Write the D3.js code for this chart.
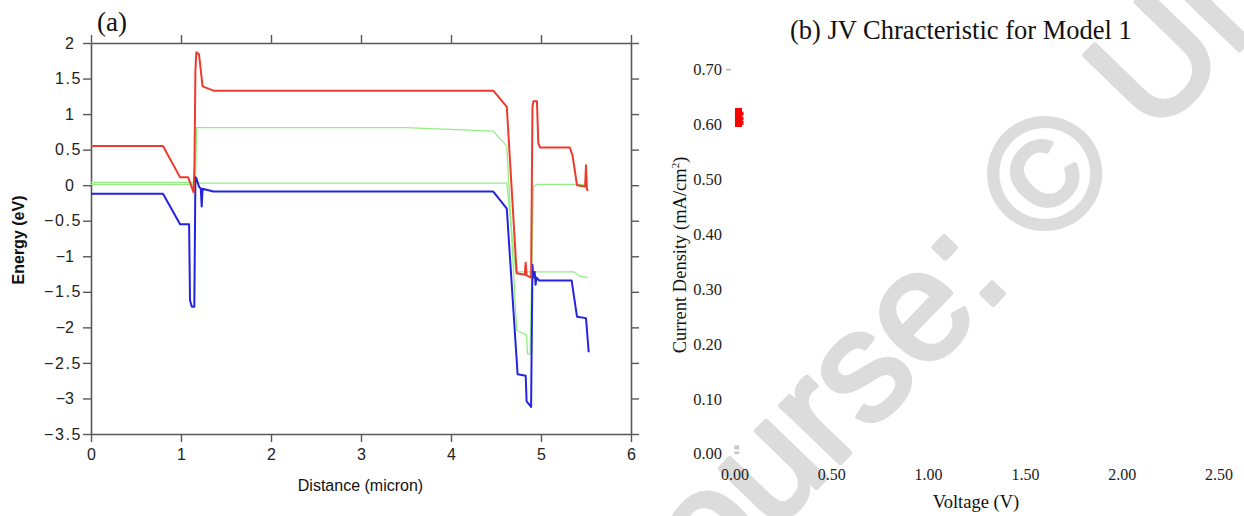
<!DOCTYPE html>
<html>
<head>
<meta charset="utf-8">
<script src="https://cdn.jsdelivr.net/npm/d3@7/dist/d3.min.js"></script>
<style>
  html, body { margin: 0; padding: 0; background: #fff; }
  svg { display: block; }
</style>
</head>
<body>
<div id="chart"></div>
<script>
// (a) 能带图: Ec / Ev / 两条准费米能级; (b) JV 曲线 (只有 V≈0 附近几点)
const W = 1244, H = 516;

// ---- panel (a) data: distance (micron) / energy (eV) ----
const ecX = [0, 0.8, 0.99, 1.08, 1.12, 1.14, 1.15, 1.16, 1.17, 1.2, 1.24, 1.36, 4.47, 4.62, 4.73, 4.82, 4.83, 4.84, 4.89, 4.905, 4.915, 4.955, 4.97, 4.99, 5.32, 5.35, 5.4, 5.49, 5.5, 5.51, 5.52];
const ecE = [0.55, 0.55, 0.11, 0.11, -0.03, -0.1, 0.3, 1.6, 1.87, 1.84, 1.39, 1.33, 1.33, 1.1, -1.24, -1.26, -1.09, -1.27, -1.3, 1.1, 1.18, 1.18, 0.59, 0.53, 0.53, 0.42, 0.0, -0.02, 0.28, -0.05, -0.08];

const evX = [0, 0.8, 0.99, 1.09, 1.1, 1.12, 1.148, 1.16, 1.17, 1.2, 1.22, 1.23, 1.24, 1.36, 4.47, 4.62, 4.74, 4.83, 4.84, 4.88, 4.89, 4.905, 4.915, 4.93, 4.94, 4.95, 4.98, 5.34, 5.4, 5.5, 5.53];
const evE = [-0.12, -0.12, -0.55, -0.55, -1.62, -1.71, -1.71, 0.11, 0.1, -0.02, -0.05, -0.3, -0.05, -0.09, -0.09, -0.33, -2.66, -2.68, -3.04, -3.1, -3.12, -1.12, -1.3, -1.22, -1.4, -1.3, -1.34, -1.34, -1.85, -1.87, -2.35];

const efnX = [0, 1.14, 1.16, 1.174, 3.5, 4.47, 4.62, 4.73, 4.84, 4.85, 4.88, 4.915, 4.95, 5.51];
const efnE = [0.01, 0.01, 0.05, 0.81, 0.81, 0.76, 0.55, -2.04, -2.11, -2.37, -2.38, -0.02, 0.01, 0.01];

const efpX = [0, 1.1, 1.2, 4.62, 4.72, 5.37, 5.43, 5.52];
const efpE = [0.04, 0.04, 0.03, 0.03, -1.22, -1.22, -1.28, -1.3];

const energyTicks = d3.range(-3.5, 2.01, 0.5);
const distTicks = [0, 1, 2, 3, 4, 5, 6];

// ---- panel (b) data: voltage (V) / current density (mA/cm2) ----
const jvV = [0.018, 0.018, 0.018, 0.018, 0.018, 0.031, 0.031, 0.031];
const jvJ = [0.624, 0.618, 0.612, 0.606, 0.602, 0.620, 0.611, 0.603];
const greyV = [0.009, 0.009];
const greyJ = [0.012, 0.001];
const jTicks = [0, 0.1, 0.2, 0.3, 0.4, 0.5, 0.6, 0.7];
const vTicks = [0, 0.5, 1.0, 1.5, 2.0, 2.5];

const svg = d3.select("#chart").append("svg").attr("width", W).attr("height", H);
svg.append("rect").attr("width", W).attr("height", H).attr("fill", "#fff");

// ---- watermark (drawn first, under everything) ----
const wmSize = 156, wmAng = -46;
const wm = svg.append("g");
const wmText = wm.append("text")
  .attr("font-family", "Liberation Sans, Arial, sans-serif").attr("font-size", wmSize)
  .attr("fill", "#dcdcdc").attr("stroke", "#dcdcdc").attr("stroke-width", 5)
  .attr("stroke-linejoin", "round").attr("stroke-linecap", "round")
  .text("Course: © Uni");
{
  // 以 © 的中心定位整条水印
  const n = wmText.node();
  const p0 = n.getStartPositionOfChar(8);
  const cw = n.getExtentOfChar(8).width;
  const lx = p0.x + cw / 2, ly = p0.y - 0.36 * wmSize;
  const a = wmAng * Math.PI / 180;
  const rx = lx * Math.cos(a) - ly * Math.sin(a);
  const ry = lx * Math.sin(a) + ly * Math.cos(a);
  wm.attr("transform", `translate(${1043 - rx},${172 - ry}) rotate(${wmAng})`);
}

// ================= panel (a) =================
const ax = { left: 91, right: 631, top: 43, bottom: 434 };
const x = d3.scaleLinear().domain([0, 6]).range([ax.left, ax.right]);
const y = d3.scaleLinear().domain([-3.5, 2]).range([ax.bottom, ax.top]);
const axisColor = "#585858";
const sans = "Liberation Sans, Arial, sans-serif";
const fmtE = d3.format("~g");

function styleAxis(g) {
  g.selectAll(".domain").attr("stroke", axisColor).attr("stroke-width", 1.6);
  g.selectAll(".tick line").attr("stroke", axisColor).attr("stroke-width", 1.4);
  g.selectAll("text").attr("font-family", sans).attr("font-size", 16).attr("fill", "#222");
}

const gBottom = svg.append("g").attr("transform", `translate(0,${ax.bottom})`)
  .call(d3.axisBottom(x).tickValues(distTicks).tickSize(8).tickSizeOuter(0).tickPadding(7).tickFormat(d3.format("d")));
styleAxis(gBottom);
const gTop = svg.append("g").attr("transform", `translate(0,${ax.top})`)
  .call(d3.axisTop(x).tickValues(distTicks).tickSize(8).tickSizeOuter(0).tickFormat(""));
styleAxis(gTop);
const gLeft = svg.append("g").attr("transform", `translate(${ax.left},0)`)
  .call(d3.axisLeft(y).tickValues(energyTicks).tickSize(8).tickSizeOuter(0).tickPadding(1).tickFormat(fmtE));
styleAxis(gLeft);
gLeft.selectAll(".tick text")
  .attr("letter-spacing", (d) => Number.isInteger(d) ? 0 : 1.6)
  .attr("dx", (d) => Number.isInteger(d) ? -8 : 0);
const gRight = svg.append("g").attr("transform", `translate(${ax.right},0)`)
  .call(d3.axisRight(y).tickValues(energyTicks).tickSize(8).tickSizeOuter(0).tickFormat(""));
styleAxis(gRight);

svg.append("text").attr("x", 97).attr("y", 31)
  .attr("font-family", "Liberation Serif, Times New Roman, serif").attr("font-size", 27).attr("fill", "#111")
  .text("(a)");
svg.append("text").attr("x", ax.left + (ax.right - ax.left) / 2 - 0.5).attr("y", 491)
  .attr("text-anchor", "middle").attr("font-family", sans).attr("font-size", 16).attr("fill", "#111")
  .text("Distance (micron)");
svg.append("text").attr("transform", `translate(24,${240}) rotate(-90)`)
  .attr("text-anchor", "middle").attr("font-family", sans).attr("font-size", 16).attr("font-weight", "bold")
  .attr("fill", "#111").text("Energy (eV)");

const line = d3.line().x((d) => x(d[0])).y((d) => y(d[1]));
const bands = [
  { xs: efpX, es: efpE, color: "#92ee82", w: 1.3 },
  { xs: efnX, es: efnE, color: "#92ee82", w: 1.3 },
  { xs: evX, es: evE, color: "#2424e0", w: 2 },
  { xs: ecX, es: ecE, color: "#ee3a2c", w: 2 },
];
svg.append("g").selectAll("path").data(bands).join("path")
  .attr("d", (b) => line(b.xs.map((v, i) => [v, b.es[i]])))
  .attr("fill", "none").attr("stroke", (b) => b.color).attr("stroke-width", (b) => b.w)
  .attr("stroke-linejoin", "round");

// ================= panel (b) =================
const serif = "Liberation Serif, Times New Roman, serif";
const xv = d3.scaleLinear().domain([0, 2.5]).range([735, 1219]);
const yj = d3.scaleLinear().domain([0, 0.7]).range([454, 69.7]);
const fmt2 = d3.format(".2f");

svg.append("text").attr("x", 790).attr("y", 39)
  .attr("font-family", serif).attr("font-size", 26.5).attr("fill", "#111")
  .text("(b) JV Chracteristic for Model 1");

svg.append("g").selectAll("text").data(jTicks).join("text")
  .attr("x", 722).attr("y", (d) => yj(d)).attr("dy", "0.33em").attr("text-anchor", "end")
  .attr("font-family", serif).attr("font-size", 16.5).attr("fill", "#222")
  .text(fmt2);
svg.append("g").selectAll("text").data(vTicks).join("text")
  .attr("x", (d) => xv(d)).attr("y", 479.5).attr("text-anchor", "middle")
  .attr("font-family", serif).attr("font-size", 16).attr("fill", "#222")
  .text(fmt2);

// 仅顶端一个浅灰短刻度
svg.append("g").selectAll("line").data([0.7]).join("line")
  .attr("x1", 726).attr("x2", 731).attr("y1", (d) => yj(d)).attr("y2", (d) => yj(d))
  .attr("stroke", "#c4c4c4").attr("stroke-width", 2);

svg.append("text").attr("x", xv(1.25) - 1).attr("y", 508).attr("text-anchor", "middle")
  .attr("font-family", serif).attr("font-size", 18.5).attr("fill", "#111")
  .text("Voltage (V)");
const yl = svg.append("text").attr("transform", `translate(686,255) rotate(-90)`)
  .attr("text-anchor", "middle").attr("font-family", serif).attr("font-size", 18.5).attr("fill", "#111");
yl.append("tspan").text("Current Density (mA/cm");
yl.append("tspan").attr("font-size", 11).attr("dy", -7).text("2");
yl.append("tspan").attr("dy", 7).text(")");

// 数据点
svg.append("g").selectAll("rect").data(greyV.map((v, i) => [v, greyJ[i]])).join("rect")
  .attr("x", (d) => xv(d[0]) - 2.5).attr("y", (d) => yj(d[1]) - 2)
  .attr("width", 5).attr("height", (d, i) => i === 0 ? 4 : 2.5).attr("fill", "#c8c8c8");
svg.append("g").selectAll("rect").data(jvV.map((v, i) => [v, jvJ[i]])).join("rect")
  .attr("x", (d, i) => xv(d[0]) - (i < 5 ? 3.5 : 2.5)).attr("y", (d, i) => yj(d[1]) - (i < 5 ? 3.5 : 2))
  .attr("width", (d, i) => i < 5 ? 7 : 5).attr("height", (d, i) => i < 5 ? 7 : 4)
  .attr("fill", "#ff0000");
</script>
</body>
</html>
